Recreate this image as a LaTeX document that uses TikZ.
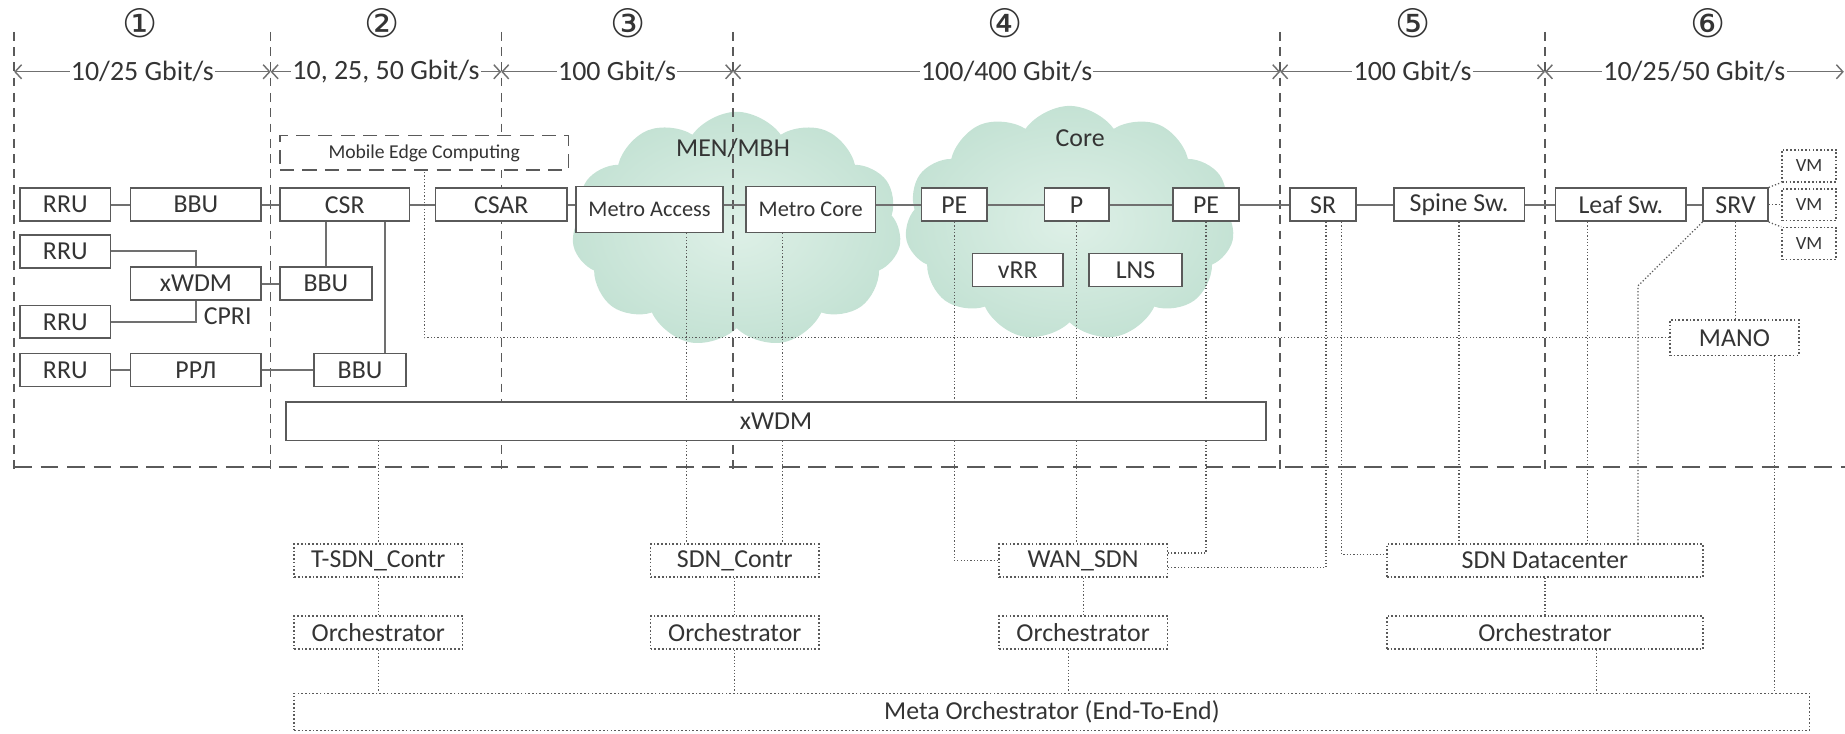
\documentclass[tikz,border=0pt]{standalone}
\usepackage{fontspec}
\setmainfont{Carlito}
\newfontfamily\circfont{DejaVu Sans}
\usepackage{tikz}
\usetikzlibrary{arrows.meta,shapes.symbols,calc}

\definecolor{txtgray}{RGB}{52,52,52}
\definecolor{boxgray}{RGB}{90,90,90}
\definecolor{linegray}{RGB}{112,112,112}
\definecolor{cloudgreen}{RGB}{196,226,212}
\definecolor{cloudlight}{RGB}{222,240,231}

\begin{document}
\begin{tikzpicture}[x=0.2mm, y=-0.2mm,
    font=\fontsize{12.5}{15}\selectfont, text=txtgray,
    box/.style={draw=boxgray, line width=0.8pt, fill=white, inner sep=0pt,
                minimum height=5.6mm},
    ctlbox/.style={box, densely dotted, line width=0.7pt},
    mecbox/.style={box, dash pattern=on 2.4mm off 1.4mm, font=\fontsize{9.5}{11}\selectfont},
    metro/.style={box, minimum height=7.8mm, font=\fontsize{10.8}{13}\selectfont},
    vmbox/.style={ctlbox, minimum width=9.2mm, minimum height=5.4mm, font=\fontsize{9}{11}\selectfont},
    netcloud/.style={cloud, cloud puffs=11, cloud puff arc=110, draw=none,
                     inner color=cloudlight, outer color=cloudgreen,
                     inner sep=0pt, minimum width=56mm, minimum height=40mm},
    link/.style={draw=linegray, line width=0.9pt},
    ctl/.style={draw=boxgray, densely dotted, line width=0.6pt},
    divider/.style={draw=boxgray, line width=0.7pt, dash pattern=on 1.5mm off 1.1mm},
    zoneline/.style={draw=boxgray, line width=0.7pt, dash pattern=on 3mm off 1.5mm},
    rate/.style={{Straight Barb[length=1.1mm,width=2.4mm]}-{Straight Barb[length=1.1mm,width=2.4mm]},
                 draw=linegray, line width=0.7pt},
    ratelbl/.style={fill=white, inner xsep=0.6pt, inner ysep=1pt, font=\fontsize{13.5}{16}\selectfont},
    segno/.style={font=\fontsize{19}{21}\selectfont\circfont}]

    \useasboundingbox (0,0) rectangle (1568,623);

    \node[netcloud] (mencloud)  at (626,195) {};
    \node[netcloud] (corecloud) at (909,190) {};

    \draw[divider] (12,27) -- (12,402);
    \draw[divider] (230,27) -- (230,402);
    \draw[divider] (426,27) -- (426,402);
    \draw[divider] (623,27) -- (623,402);
    \draw[divider] (1088,27) -- (1088,402);
    \draw[divider] (1313,27) -- (1313,402);
    \draw[zoneline] (12,397) -- (1568,397);

    \coordinate (r0) at (12,61);
    \coordinate (r1) at (230,61);
    \coordinate (r2) at (426,61);
    \coordinate (r3) at (623,61);
    \coordinate (r4) at (1088,61);
    \coordinate (r5) at (1313,61);
    \coordinate (r6) at (1567,61);

    \draw[rate] (r0) -- node[ratelbl]{10/25 Gbit/s} (r1);
    \draw[rate] (r1) -- node[ratelbl]{10, 25, 50 Gbit/s} (r2);
    \draw[rate] (r2) -- node[ratelbl]{100 Gbit/s} (r3);
    \draw[rate] (r3) -- node[ratelbl]{100/400 Gbit/s} (r4);
    \draw[rate] (r4) -- node[ratelbl]{100 Gbit/s} (r5);
    \draw[rate] (r5) -- node[ratelbl]{10/25/50 Gbit/s} (r6);

    \node[segno] (seg1) at (119,20)  {①};
    \node[segno] (seg2) at (325,20)  {②};
    \node[segno] (seg3) at (534,20)  {③};
    \node[segno] (seg4) at (854,20)  {④};
    \node[segno] (seg5) at (1201,20) {⑤};
    \node[segno] (seg6) at (1452,20) {⑥};

    \node (menlbl)  at (623,126)  {MEN/MBH};
    \node (corelbl) at (918,117.5) {Core};

    \node[mecbox, minimum width=49mm, minimum height=5.9mm] (mec) at (360.5,130) {Mobile Edge Computing};

    \node[box, minimum width=15.4mm] (rru1)  at (55.5,174)  {RRU};
    \node[box, minimum width=22.2mm] (bbu1)  at (166.5,174) {BBU};
    \node[box, minimum width=22mm]   (csr)   at (293,174)   {CSR};
    \node[box, minimum width=22.4mm] (csar)  at (426,174)   {CSAR};
    \node[metro, minimum width=25mm] (metroacc)  at (552,178) {Metro Access};
    \node[metro, minimum width=22mm] (metrocore) at (689,178) {Metro Core};
    \node[box, minimum width=11.2mm] (pe1)   at (811,174)   {PE};
    \node[box, minimum width=10.9mm] (p)     at (915,174)   {P};
    \node[box, minimum width=11.2mm] (pe2)   at (1025,174)  {PE};
    \node[box, minimum width=15.4mm] (vrr)   at (865,229.5) {vRR};
    \node[box, minimum width=15.7mm] (lns)   at (965,229.5) {LNS};
    \node[box, minimum width=11.2mm] (sr)    at (1124.5,174) {SR};
    \node[box, minimum width=22.2mm] (spine) at (1240,174)  {Spine Sw.};
    \node[box, minimum width=22.2mm] (leaf)  at (1377.5,174) {Leaf Sw.};
    \node[box, minimum width=11mm]   (srv)   at (1475,174)  {SRV};
    \node[vmbox] (vm1) at (1537.5,141) {VM};
    \node[vmbox] (vm2) at (1537.5,174) {VM};
    \node[vmbox] (vm3) at (1537.5,207) {VM};

    \node[box, minimum width=15.4mm] (rru2)  at (55.5,213.5)  {RRU};
    \node[box, minimum width=22.2mm] (lxwdm) at (166.5,241)   {xWDM};
    \node[box, minimum width=15.6mm] (bbu2)  at (277,241)     {BBU};
    \node[box, minimum width=15.4mm] (rru3)  at (55.5,273.5)  {RRU};
    \node (cpri) at (193.5,269) {CPRI};
    \node[box, minimum width=15.4mm] (rru4)  at (55.5,314.5)  {RRU};
    \node[box, minimum width=22.2mm] (rrl)   at (166.5,314.5) {РРЛ};
    \node[box, minimum width=15.6mm] (bbu3)  at (306,314.5)   {BBU};

    \node[ctlbox, minimum width=21.9mm, minimum height=6mm] (mano) at (1474,287) {MANO};
    \node[box, minimum width=166.6mm, minimum height=6.5mm] (bigwdm) at (659.5,358) {xWDM};

    \node[ctlbox, minimum width=28.6mm] (tsdn)  at (321.5,476.5) {T-SDN\_Contr};
    \node[ctlbox, minimum width=28.6mm] (orch1) at (321.5,537.5) {Orchestrator};
    \node[ctlbox, minimum width=28.6mm] (sdnc)  at (624.5,476.5) {SDN\_Contr};
    \node[ctlbox, minimum width=28.6mm] (orch2) at (624.5,537.5) {Orchestrator};
    \node[ctlbox, minimum width=28.6mm] (wan)   at (920.5,476.5) {WAN\_SDN};
    \node[ctlbox, minimum width=28.6mm] (orch3) at (920.5,537.5) {Orchestrator};
    \node[ctlbox, minimum width=53.7mm] (sdndc) at (1313,476.5)  {SDN Datacenter};
    \node[ctlbox, minimum width=53.7mm] (orch4) at (1313,537.5)  {Orchestrator};
    \node[ctlbox, minimum width=257.6mm, minimum height=6.3mm] (meta) at (894,605) {Meta Orchestrator (End-To-End)};

    \draw[link] (rru1) -- (bbu1);
    \draw[link] (bbu1) -- (csr);
    \draw[link] (csr) -- (csar);
    \draw[link] (csar.east) -- (csar.east -| metroacc.west);
    \draw[link] (csar.east -| metroacc.east) -- (csar.east -| metrocore.west);
    \draw[link] (csar.east -| metrocore.east) -- (pe1.west);
    \draw[link] (pe1) -- (p);
    \draw[link] (p) -- (pe2);
    \draw[link] (pe2) -- (sr);
    \draw[link] (sr) -- (spine);
    \draw[link] (spine) -- (leaf);
    \draw[link] (leaf) -- (srv);
    \draw[link] (rru2.east) -| (lxwdm.north);
    \draw[link] (rru3.east) -| (lxwdm.south);
    \draw[link] (lxwdm) -- (bbu2);
    \draw[link] (rru4) -- (rrl);
    \draw[link] (rrl) -- (bbu3);
    \draw[link] (bbu2.north |- csr.south) -- (bbu2.north);
    \coordinate (b3top) at ($(bbu3.north)+(21,0)$);
    \draw[link] (b3top |- csr.south) -- (b3top);

    \draw[ctl] (srv.north east) -- (vm1.south west);
    \draw[ctl] (srv.east) -- (vm2.west);
    \draw[ctl] (srv.south east) -- (vm3.north west);
    \draw[ctl] (srv.south) -- (srv.south |- mano.north);
    \draw[ctl] (mano.west) -| (mec.south);

    \coordinate (matap) at ($(metroacc.south)+(31.5,0)$);
    \coordinate (mctap) at ($(metrocore.south)+(-24,0)$);
    \draw[ctl] (matap) -- (matap |- bigwdm.north) (matap |- bigwdm.south) -- (matap |- sdnc.north);
    \draw[ctl] (mctap) -- (mctap |- bigwdm.north) (mctap |- bigwdm.south) -- (mctap |- sdnc.north);
    \draw[ctl] (tsdn.north |- bigwdm.south) -- (tsdn.north);
    \draw[ctl] (pe1.south) -- (pe1.south |- bigwdm.north) (pe1.south |- bigwdm.south) |- (wan.west);
    \draw[ctl] (p.south) -- (p.south |- bigwdm.north) (p.south |- bigwdm.south) -- (p.south |- wan.north);
    \draw[ctl] (pe2.south) -- (pe2.south |- bigwdm.north) (pe2.south |- bigwdm.south) |- ($(wan.east)+(0,-6.5)$);

    \coordinate (srtapa) at ($(sr.south)+(2.5,0)$);
    \coordinate (srtapb) at ($(sr.south)+(15.5,0)$);
    \draw[ctl] (srtapa) |- ($(wan.east)+(0,6)$);
    \draw[ctl] (srtapb) |- ($(sdndc.west)+(0,-5.5)$);
    \draw[ctl] (spine.south) -- (spine.south |- sdndc.north);
    \coordinate (leaftap) at ($(leaf.south)+(-28.5,0)$);
    \draw[ctl] (leaftap) -- (leaftap |- sdndc.north);
    \coordinate (srvbend) at (1392,243);
    \draw[ctl] (srv.south west) -- (srvbend) -- (srvbend |- sdndc.north);

    \draw[ctl] (tsdn) -- (orch1);
    \draw[ctl] (sdnc) -- (orch2);
    \draw[ctl] (wan) -- (orch3);
    \draw[ctl] (sdndc) -- (orch4);
    \draw[ctl] (orch1.south) -- (orch1.south |- meta.north);
    \draw[ctl] (orch2.south) -- (orch2.south |- meta.north);
    \coordinate (o3tap) at ($(orch3.south)+(-12.5,0)$);
    \draw[ctl] (o3tap) -- (o3tap |- meta.north);
    \coordinate (o4tap) at ($(orch4.south)+(44,0)$);
    \draw[ctl] (o4tap) -- (o4tap |- meta.north);
    \coordinate (manotap) at ($(mano.south)+(34,0)$);
    \draw[ctl] (manotap) -- (manotap |- meta.north);
  \end{tikzpicture}
\end{document}
